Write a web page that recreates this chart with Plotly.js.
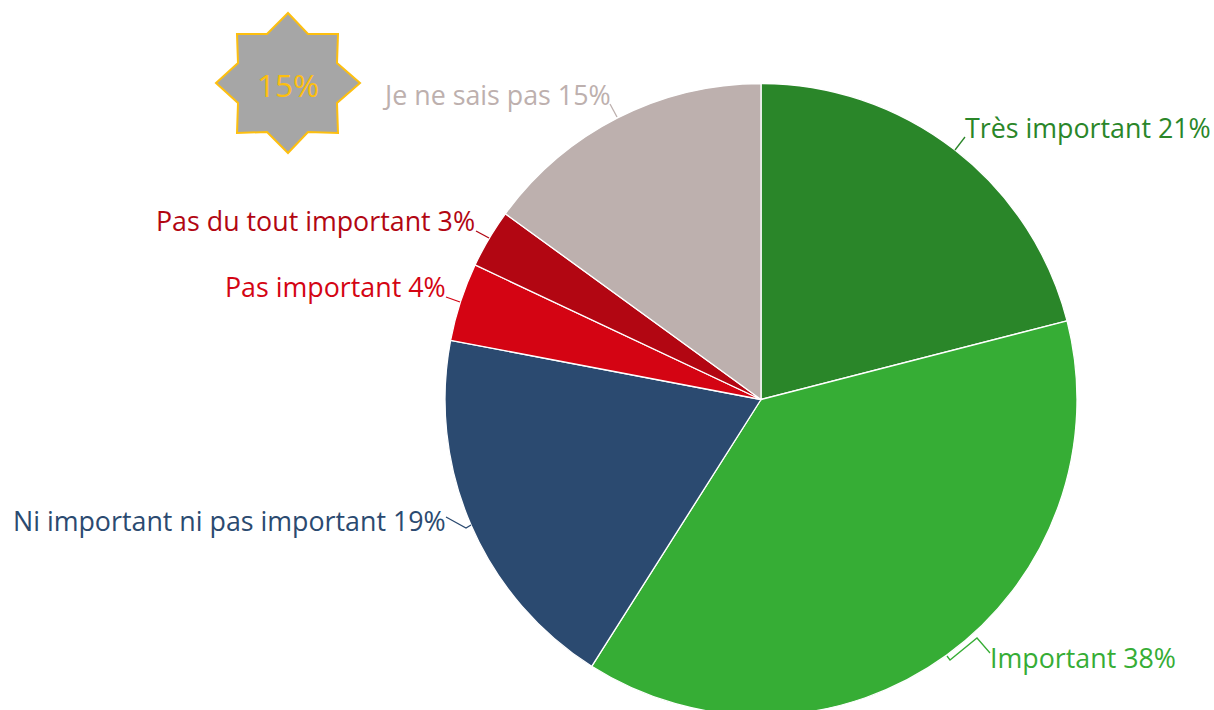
<!DOCTYPE html>
<html><head><meta charset="utf-8">
<script src="https://cdn.plot.ly/plotly-3.0.1.min.js"></script>
<style>html,body{margin:0;padding:0;background:#fff;overflow:hidden}#wrap{width:1214px;height:710px;overflow:hidden}</style></head>
<body><div id="wrap"><div id="c"></div></div>
<script>
var categories=["Très important","Important","Ni important ni pas important","Pas important","Pas du tout important","Je ne sais pas"];
var values=[21,38,19,4,3,15];
var colors=["#2a8629","#36ad35","#2b4a70","#d40413","#b20612","#bdb0ae"];
var badgeText="15%";
var fontFamily='"Open Sans", sans-serif';
var W=1214,H=740;
function px(x){return x/W}
function py(y){return 1-y/H}
var cx=761,cy=399.5,R=316;
var trace={type:"pie",labels:categories,values:values,sort:false,direction:"clockwise",rotation:0,
 marker:{colors:colors,line:{color:"#fff",width:1.3}},
 textinfo:"none",automargin:false,showlegend:false,
 domain:{x:[px(cx-R),px(cx+R)],y:[py(cy+R),py(cy-R)]},hoverinfo:"label+percent"};
// label placement: [x, y, anchor]
var labelPos=[[963.5,127,"left"],[988.5,657.5,"left"],[446.5,520.5,"right"],[446.5,286.5,"right"],[475.5,220.5,"right"],[611.5,94.5,"right"]];
var leaders=[
 [[955,150],[965,137]],
 [[947,656],[950,660],[977,638],[990,653]],
 [[446,517],[466,528],[471,525]],
 [[446,297],[460,302]],
 [[476,231],[489,238]],
 [[610,104],[617,117]]
];
var starPts=[[288,13],[308,34],[338,34],[337,63],[360,83],[337,103],[338,133],[308,132],[288,153],[267,132],[237,133],[238,103],[216,83],[238,63],[237,34],[267,34]];
function toPath(pts,close){return "M"+pts.map(function(p){return px(p[0]).toFixed(5)+","+py(p[1]).toFixed(5)}).join("L")+(close?"Z":"")}
var shapes=[{type:"path",xref:"paper",yref:"paper",path:toPath(starPts,true),fillcolor:"#a6a6a6",line:{color:"#fdbf0f",width:2}}];
leaders.forEach(function(l,i){shapes.push({type:"path",xref:"paper",yref:"paper",path:toPath(l,false),fillcolor:"rgba(0,0,0,0)",line:{color:colors[i],width:1.3}})});
var annotations=categories.map(function(c,i){return {text:c+" "+values[i]+"%",xref:"paper",yref:"paper",x:px(labelPos[i][0]),y:py(labelPos[i][1]),xanchor:labelPos[i][2],yanchor:"middle",showarrow:false,borderpad:0,font:{family:fontFamily,size:26.8,color:colors[i]}}});
annotations.push({text:badgeText,xref:"paper",yref:"paper",x:px(287.5),y:py(84.5),showarrow:false,xanchor:"center",yanchor:"middle",font:{family:fontFamily,size:31.5,color:"#fdbf0f"}});
var layout={width:W,height:H,margin:{l:0,r:0,t:0,b:0},paper_bgcolor:"#fff",showlegend:false,font:{family:fontFamily},shapes:shapes,annotations:annotations};
Plotly.newPlot("c",[trace],layout,{displayModeBar:false});
</script></body></html>
